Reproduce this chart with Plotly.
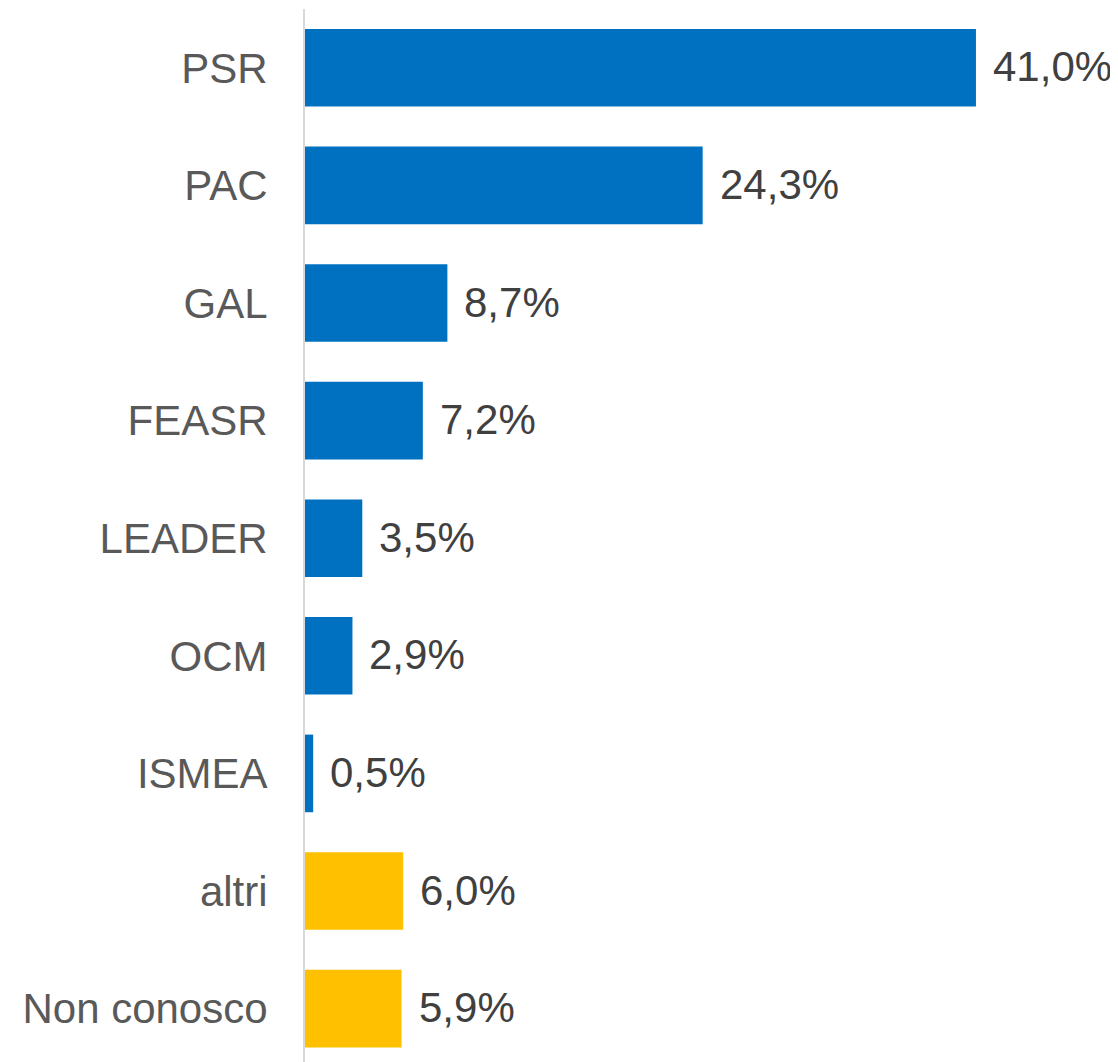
import plotly.graph_objs as go

categories = ['PSR', 'PAC', 'GAL', 'FEASR', 'LEADER', 'OCM', 'ISMEA', 'altri', 'Non conosco']
values = [41.0, 24.3, 8.7, 7.2, 3.5, 2.9, 0.5, 6.0, 5.9]
labels = ['41,0%', '24,3%', '8,7%', '7,2%', '3,5%', '2,9%', '0,5%', '6,0%', '5,9%']

blue = '#0070C0'
yellow = '#FFC000'
bar_colors = [blue] * 7 + [yellow] * 2

font_family = 'Liberation Sans, Arial, sans-serif'

trace = go.Bar(
    x=values,
    y=categories,
    orientation='h',
    marker={'color': bar_colors, 'line': {'width': 0}},
    hoverinfo='skip',
)

annotations = [
    {
        'x': v, 'y': c, 'xref': 'x', 'yref': 'y',
        'text': t, 'showarrow': False,
        'xanchor': 'left', 'yanchor': 'middle',
        'xshift': 15, 'yshift': 1,
        'font': {'family': font_family, 'size': 42, 'color': '#404040'},
    }
    for c, v, t in zip(categories, values, labels)
]

# page body has an 8px margin, so the figure is a little smaller than the window
layout = go.Layout(
    width=1110,
    height=1054,
    margin={'l': 297, 'r': 0, 't': 1, 'b': 0, 'autoexpand': False},
    paper_bgcolor='white',
    plot_bgcolor='white',
    bargap=0.34,
    showlegend=False,
    xaxis={
        'range': [0, 49.68],
        'showgrid': False,
        'zeroline': False,
        'showticklabels': False,
        'showline': False,
        'fixedrange': True,
    },
    yaxis={
        'categoryorder': 'array',
        'categoryarray': categories[::-1],
        'range': [-0.454, 8.5],
        'showgrid': False,
        'zeroline': False,
        'showline': True,
        'linecolor': '#D9D9D9',
        'linewidth': 2,
        'ticks': '',
        'ticklabelstandoff': 27,
        'tickfont': {'family': font_family, 'size': 42, 'color': '#595959'},
        'fixedrange': True,
    },
    annotations=annotations,
)

fig = go.Figure(data=[trace], layout=layout)
fig.write_html("out.html")
